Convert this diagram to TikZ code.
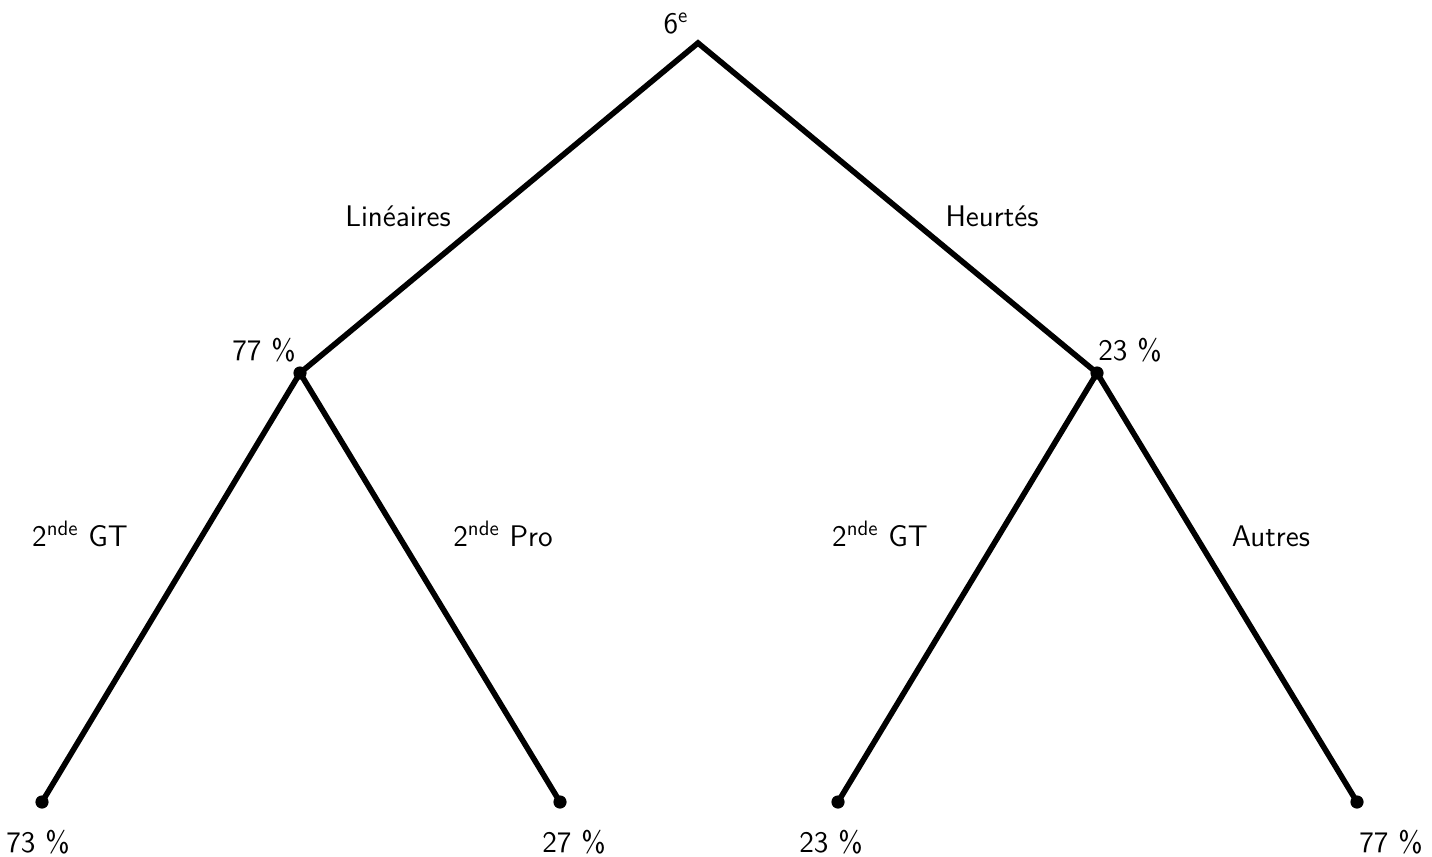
\documentclass[tikz,border=0pt]{standalone}
\renewcommand{\familydefault}{\sfdefault}
\begin{document}
\begin{tikzpicture}[x=0.5pt,y=-0.5pt,
  branch/.style={line width=2.8pt,line cap=round},
  dot/.style={circle,fill=black,inner sep=0pt,minimum size=6.6pt},
  lbl/.style={anchor=base,inner sep=0pt,font=\fontsize{14.9}{18}\selectfont\sffamily}]
\useasboundingbox (0,0) rectangle (1432,857);
\coordinate (top) at (698,43);
\node[dot] (L) at (300,373) {};
\node[dot] (R) at (1097,373) {};
\node[dot] (LL) at (42,802) {};
\node[dot] (LR) at (560,802) {};
\node[dot] (RL) at (838,802) {};
\node[dot] (RR) at (1357,802) {};
\draw[branch] (L.center) -- (top) -- (R.center);
\draw[branch] (LL.center) -- (L.center) -- (LR.center);
\draw[branch] (RL.center) -- (R.center) -- (RR.center);
\node[lbl] (t6) at (676,33) {6\textsuperscript{e}};
\node[lbl] (tlin) at (398,226) {Linéaires};
\node[lbl] (thr) at (992,226) {Heurtés};
\node[lbl] (p77) at (264,360) {77~\%};
\node[lbl] (p23) at (1130,360) {23~\%};
\node[lbl] (tgt1) at (80,546) {2\textsuperscript{nde} GT};
\node[lbl] (tpro) at (503,546) {2\textsuperscript{nde} Pro};
\node[lbl] (tgt2) at (880,546) {2\textsuperscript{nde} GT};
\node[lbl] (taut) at (1271,546) {Autres};
\node[lbl] (q73) at (38,852) {73~\%};
\node[lbl] (q27) at (574,852) {27~\%};
\node[lbl] (q23) at (831,852) {23~\%};
\node[lbl] (q77) at (1391,852) {77~\%};
\end{tikzpicture}
\end{document}
